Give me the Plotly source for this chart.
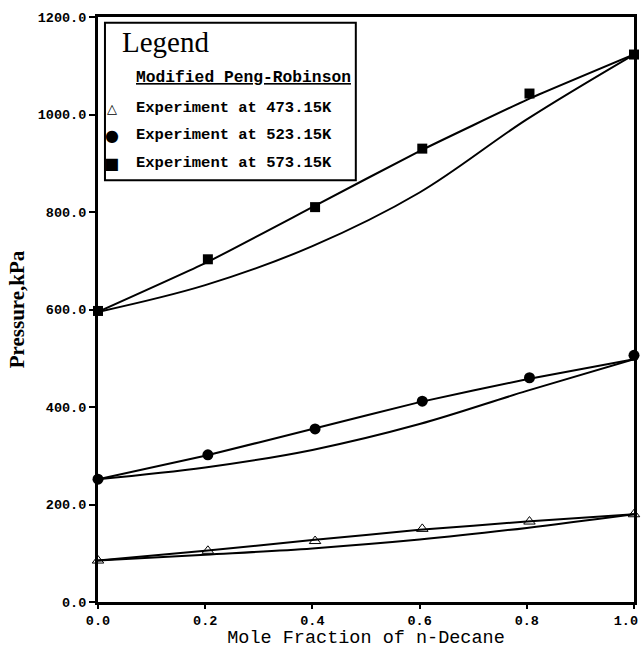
import plotly.graph_objects as go

# ---- data ----
x_exp = [0.0, 0.205, 0.405, 0.605, 0.805, 1.0]
p_473 = [85, 105, 125, 150, 165, 180]
p_523 = [252, 302, 355, 412, 460, 506]
p_573 = [597, 703, 810, 930, 1043, 1123]

x_mod = [0.0, 0.2, 0.4, 0.6, 0.8, 1.0]
bub_473 = [85, 105, 127, 148, 165, 180]
dew_473 = [85, 97, 110, 128, 152, 180]
bub_523 = [252, 300, 355, 410, 457, 498]
dew_523 = [252, 276, 312, 365, 433, 498]
bub_573 = [595, 695, 810, 925, 1030, 1123]
dew_573 = [595, 650, 730, 840, 990, 1123]

x_ticks = [0.0, 0.2, 0.4, 0.6, 0.8, 1.0]
x_tick_labels = ["0.0", "0.2", "0.4", "0.6", "0.8", "1.0"]
y_ticks = [0, 200, 400, 600, 800, 1000, 1200]

legend_title = "Legend"
legend_model = "Modified Peng-Robinson"
legend_labels = ["Experiment at 473.15K", "Experiment at 523.15K", "Experiment at 573.15K"]
legend_symbols = ["△", "●", "■"]

fig = go.Figure()

for bub, dew in [(bub_473, dew_473), (bub_523, dew_523), (bub_573, dew_573)]:
    fig.add_trace(go.Scatter(x=x_mod, y=bub, mode="lines",
                             line=dict(color="black", width=2, shape="spline", smoothing=0.4),
                             showlegend=False, cliponaxis=False))
    fig.add_trace(go.Scatter(x=x_mod, y=dew, mode="lines",
                             line=dict(color="black", width=2, shape="spline", smoothing=1.0),
                             showlegend=False, cliponaxis=False))

fig.add_trace(go.Scatter(x=x_exp, y=p_473, mode="markers",
                         marker=dict(symbol="triangle-up-open", size=10, color="black", line=dict(width=1)),
                         showlegend=False, cliponaxis=False))
fig.add_trace(go.Scatter(x=x_exp, y=p_523, mode="markers",
                         marker=dict(symbol="circle", size=11, color="black"),
                         showlegend=False, cliponaxis=False))
fig.add_trace(go.Scatter(x=x_exp, y=p_573, mode="markers",
                         marker=dict(symbol="square", size=10, color="black"),
                         showlegend=False, cliponaxis=False))

tick_font = dict(family="Liberation Mono", size=13.5, color="black", weight="bold")

# the last label is nudged left (non-breaking padding) so it stays inside the window
shown_x_labels = x_tick_labels[:-1] + [x_tick_labels[-1] + "\u00a0\u00a0"]

fig.update_xaxes(range=[0, 1], tickvals=x_ticks, ticktext=shown_x_labels, ticks="outside", ticklen=4,
                 tickwidth=1.5, tickcolor="black", showline=True, linewidth=3, linecolor="black",
                 mirror=True, showgrid=False, zeroline=False, tickfont=tick_font,
                 ticklabeloverflow="allow",
                 title=dict(text="Mole Fraction of n-Decane", standoff=8,
                            font=dict(family="Liberation Mono", size=18.5, color="black")))
fig.update_yaxes(range=[0, 1200], tickvals=y_ticks, tickformat=".1f", ticks="outside", ticklen=6,
                 tickwidth=1.5, tickcolor="black", showline=True, linewidth=3, linecolor="black",
                 mirror=True, showgrid=False, zeroline=False, tickfont=tick_font,
                 ticklabeloverflow="allow",
                 title=dict(text="Pressure,kPa", standoff=8,
                            font=dict(family="Liberation Serif", size=21, color="black", weight="bold")))

# legend box
fig.add_shape(type="rect", xref="paper", yref="paper", x0=0.013, x1=0.481, y0=0.721, y1=0.990,
              line=dict(color="black", width=2), fillcolor="white", layer="above")
fig.add_annotation(xref="paper", yref="paper", x=0.041, y=0.957, xanchor="left", yanchor="middle",
                   text=legend_title, showarrow=False,
                   font=dict(family="Liberation Serif", size=29, color="black"))
fig.add_annotation(xref="paper", yref="paper", x=0.067, y=0.897, xanchor="left", yanchor="middle",
                   text="<u>" + legend_model + "</u>", showarrow=False,
                   font=dict(family="Liberation Mono", size=16.3, color="black", weight="bold"))
ys = [0.844, 0.798, 0.750]
for sym, lab, yy in zip(legend_symbols, legend_labels, ys):
    fig.add_annotation(xref="paper", yref="paper", x=0.026, y=yy, xanchor="center", yanchor="middle",
                       text=sym, showarrow=False,
                       font=dict(family="DejaVu Sans", size=16 if sym != "△" else 13, color="black"))
    fig.add_annotation(xref="paper", yref="paper", x=0.067, y=yy, xanchor="left", yanchor="middle",
                       text=lab, showarrow=False,
                       font=dict(family="Liberation Mono", size=15.5, color="black", weight="bold"))

fig.update_layout(width=641, height=649, margin=dict(l=98, r=7, t=17, b=47, autoexpand=False),
                  plot_bgcolor="white", paper_bgcolor="white", showlegend=False)

# remove the default 8px page margin so the figure fills the window exactly
fig.write_html("out.html", config={"displayModeBar": False},
               post_script="document.body.style.margin='0';document.body.style.overflow='hidden';")
